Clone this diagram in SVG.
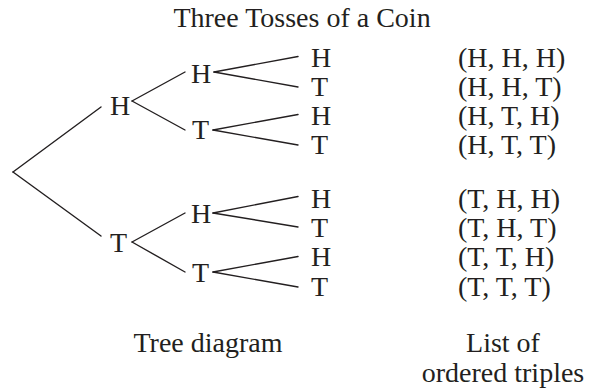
<svg xmlns="http://www.w3.org/2000/svg" width="589" height="392" viewBox="0 0 589 392">
<style>
text{font-family:"Liberation Serif","Times New Roman",serif;font-size:28px;fill:#231f20}
.c{text-anchor:middle}
.e line{stroke:#231f20;stroke-width:1.4;stroke-linecap:round}
</style>
<rect width="589" height="392" fill="#fff"/>
<text id="title" class="c" x="302" y="27">Three Tosses of a Coin</text>
<g id="connectors" class="e">
<line x1="13" y1="172" x2="101" y2="107"/>
<line x1="13" y1="172" x2="101" y2="236"/>
<line x1="132" y1="101" x2="185" y2="72"/>
<line x1="132" y1="101" x2="185" y2="130"/>
<line x1="132" y1="242" x2="185" y2="213"/>
<line x1="132" y1="242" x2="185" y2="272"/>
<line x1="214" y1="72" x2="298" y2="56.5"/>
<line x1="214" y1="72" x2="298" y2="87"/>
<line x1="213" y1="130" x2="298" y2="114.5"/>
<line x1="213" y1="130" x2="298" y2="145"/>
<line x1="213" y1="213" x2="298" y2="196.5"/>
<line x1="213" y1="213" x2="298" y2="227"/>
<line x1="213" y1="272" x2="298" y2="256.5"/>
<line x1="213" y1="272" x2="298" y2="287"/>
</g>
<g id="n1H"><text x="110" y="115">H</text></g>
<g id="n1T"><text x="110" y="252">T</text></g>
<g id="n2HH"><text x="191" y="83">H</text></g>
<g id="n2HT"><text x="192" y="139">T</text></g>
<g id="n2TH"><text x="191" y="223">H</text></g>
<g id="n2TT"><text x="192" y="282">T</text></g>
<g id="n3HHH"><text x="311" y="67">H</text></g>
<g id="n3HHT"><text x="311" y="96">T</text></g>
<g id="n3HTH"><text x="311" y="125">H</text></g>
<g id="n3HTT"><text x="311" y="154">T</text></g>
<g id="n3THH"><text x="311" y="208">H</text></g>
<g id="n3THT"><text x="311" y="237">T</text></g>
<g id="n3TTH"><text x="311" y="266">H</text></g>
<g id="n3TTT"><text x="311" y="296">T</text></g>
<g id="list">
<text x="458" y="67">(H, H, H)</text>
<text x="458" y="96">(H, H, T)</text>
<text x="458" y="125">(H, T, H)</text>
<text x="458" y="154">(H, T, T)</text>
<text x="458" y="208">(T, H, H)</text>
<text x="458" y="237">(T, H, T)</text>
<text x="458" y="266">(T, T, H)</text>
<text x="458" y="296">(T, T, T)</text>
</g>
<text id="cap1" class="c" x="208" y="352">Tree diagram</text>
<text id="cap2" class="c" x="503" y="352">List of</text>
<text id="cap3" class="c" x="503" y="382">ordered triples</text>
</svg>
